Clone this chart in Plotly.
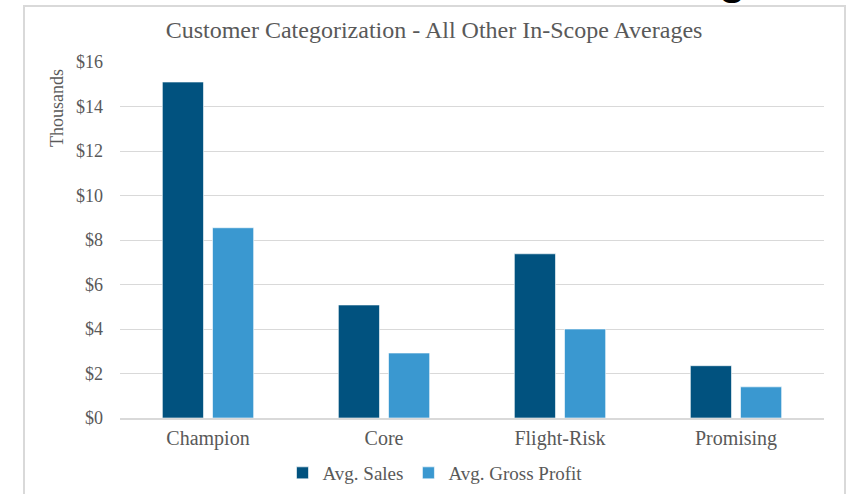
import plotly.graph_objects as go

# Average values per customer segment, in thousands of dollars
categories = ["Champion", "Core", "Flight-Risk", "Promising"]
avg_sales = [15.1, 5.08, 7.38, 2.35]
avg_gross_profit = [8.55, 2.92, 4.0, 1.4]
y_ticks = [0, 2, 4, 6, 8, 10, 12, 14, 16]
y_tick_labels = ["$" + str(v) for v in y_ticks]

TEXT = "#595959"
GRID = "#d9d9d9"
SERIF = "Liberation Serif, Times New Roman, serif"

fig = go.Figure()
fig.add_trace(go.Bar(name="Avg. Sales", x=categories, y=avg_sales,
                     marker=dict(color="#01527F", line=dict(color="#ffffff", width=0.6))))
fig.add_trace(go.Bar(name="Avg. Gross Profit", x=categories, y=avg_gross_profit,
                     marker=dict(color="#3A98D0", line=dict(color="#ffffff", width=0.6))))

W, H = 854, 494
L, R, T, B = 120, 30, 62, 76
pw, ph = W - L - R, H - T - B


def px_x(x):
    return (x - L) / pw


def px_y(y):
    return (H - B - y) / ph


fig.update_layout(
    width=W, height=H,
    margin=dict(l=L, r=R, t=T, b=B, autoexpand=False),
    paper_bgcolor="white", plot_bgcolor="white",
    barmode="group", bargap=0.43, bargroupgap=0.18,
    font=dict(family=SERIF, color=TEXT),
    title=dict(text="Customer Categorization - All Other In-Scope Averages",
               font=dict(size=24, color=TEXT, family=SERIF),
               xref="paper", x=px_x(434), xanchor="center",
               yref="container", y=1 - 30 / H, yanchor="middle"),
    showlegend=True,
    legend=dict(orientation="h", x=px_x(435), xanchor="center",
                y=px_y(473), yanchor="middle",
                font=dict(size=19, color=TEXT, family=SERIF),
                itemwidth=30, tracegroupgap=0),
    xaxis=dict(showgrid=False, showline=True, linecolor=GRID, linewidth=1.5,
               ticks="", tickfont=dict(size=20, color=TEXT, family=SERIF),
               ticklabelstandoff=1),
    yaxis=dict(range=[0, 16], tickvals=y_ticks, ticktext=y_tick_labels,
               showgrid=True, gridcolor=GRID, gridwidth=1,
               zeroline=False, showline=False, ticks="",
               tickfont=dict(size=18, color=TEXT, family=SERIF),
               ticklabelstandoff=16),
)

# Units label placed beside the top of the value axis
fig.add_annotation(text="Thousands", textangle=-90, showarrow=False,
                   xref="paper", yref="paper", x=px_x(57), y=px_y(108),
                   xanchor="center", yanchor="middle",
                   font=dict(size=18, color=TEXT, family=SERIF))

# Descender of the slide heading peeking over the chart frame
fig.add_annotation(text="<b>g</b>", showarrow=False,
                   xref="paper", yref="paper", x=px_x(732), y=px_y(5),
                   xanchor="center", yanchor="bottom",
                   font=dict(size=44, color="black", family="Liberation Sans, Arial, sans-serif"))

# Chart frame
fig.add_shape(type="rect", xref="paper", yref="paper",
              x0=px_x(24), x1=px_x(845), y0=px_y(510), y1=px_y(6),
              line=dict(color=GRID, width=2), fillcolor="rgba(0,0,0,0)", layer="below")

fig.write_html("out.html")
